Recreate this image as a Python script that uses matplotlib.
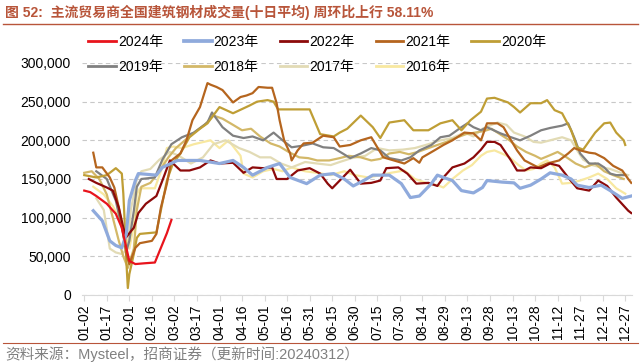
import numpy as np
import matplotlib
matplotlib.use("Agg")
import matplotlib.pyplot as plt
from matplotlib.lines import Line2D
from matplotlib.ticker import StrMethodFormatter

plt.rcParams['font.family'] = ['Liberation Sans', 'Noto Sans CJK SC']

# x 轴标签（每 15 天一个）
tick_labels = ["01-02", "01-17", "02-01", "02-16", "03-02", "03-17", "04-01", "04-16",
               "05-01", "05-16", "05-31", "06-15", "06-30", "07-15", "07-30", "08-14",
               "08-29", "09-13", "09-28", "10-13", "10-28", "11-12", "11-27", "12-12", "12-27"]

# 各年数据（横轴为自 01-02 起的天数，纵轴单位：千吨）
x24 = [0, 4, 8, 15, 21, 25, 28, 30, 34, 40, 47, 51, 55, 58]
y24 = [135, 133, 128, 118, 105, 87, 61, 44, 40, 41, 42, 61, 80, 97]

x23 = [6, 12, 17, 21, 25, 28, 30, 34, 36, 48, 52, 62, 77, 90, 99, 106, 112, 122, 130, 137,
       148, 157, 166, 173, 179, 186, 192, 203, 211, 217, 223, 231, 235, 239, 245, 251, 259,
       265, 268, 278, 286, 290, 297, 304, 310, 318, 324, 328, 336, 344, 350, 358, 364]
y23 = [109, 96, 70, 64, 61, 79, 122, 148, 157, 155, 165, 174, 174, 170, 174, 165, 155, 165, 170, 152,
       144, 155, 157, 150, 141, 148, 155, 155, 144, 126, 128, 144, 155, 152, 148, 135, 132,
       139, 148, 146, 145, 138, 142, 150, 158, 155, 150, 142, 139, 142, 135, 125, 128]

x22 = [3, 8, 15, 19, 23, 26, 28, 33, 36, 41, 48, 52, 57, 64, 70, 77, 84, 90, 99, 106,
       112, 119, 125, 128, 135, 142, 150, 157, 162, 165, 170, 177, 184, 191, 197, 201, 209, 215, 221, 229,
       235, 239, 245, 253, 259, 264, 268, 273, 277, 284, 288, 293, 297, 304, 310, 316, 322, 328, 336, 342,
       348, 354, 362, 364]
y22 = [150, 145, 139, 135, 113, 87, 75, 87, 106, 118, 128, 148, 174, 161, 161, 165, 174, 170, 171, 158,
       165, 164, 165, 150, 150, 161, 164, 157, 144, 138, 148, 162, 144, 145, 148, 164, 165, 157, 144, 145,
       141, 152, 165, 170, 178, 188, 198, 198, 194, 174, 161, 161, 165, 164, 170, 167, 152, 138, 135, 148,
       141, 126, 109, 106]

x21 = [6, 8, 12, 17, 20, 23, 26, 28, 30, 34, 37, 45, 48, 51, 55, 58, 64, 68, 72, 77,
       82, 84, 88, 92, 99, 104, 108, 112, 116, 122, 125, 128, 130, 133, 137, 138, 142, 146, 152, 159,
       166, 170, 177, 184, 191, 195, 199, 206, 213, 219, 223, 225, 233, 239, 245, 253, 259, 264, 268, 275,
       279, 284, 288, 293, 297, 302, 308, 316, 322, 326, 330, 336, 340, 346, 352, 358, 362, 364]
y21 = [184, 165, 165, 152, 139, 113, 79, 53, 40, 61, 67, 70, 79, 113, 144, 174, 183, 200, 226, 243,
       274, 272, 269, 265, 249, 256, 258, 261, 269, 268, 268, 248, 226, 200, 183, 174, 187, 196, 197, 206,
       204, 192, 194, 200, 204, 191, 178, 174, 170, 177, 171, 178, 187, 194, 200, 210, 209, 200, 222, 222,
       217, 200, 187, 174, 170, 165, 170, 174, 183, 190, 187, 184, 183, 177, 167, 161, 150, 145]

x20 = [0, 8, 15, 21, 25, 26, 27, 28, 29, 30, 33, 35, 37, 48, 50, 55, 59, 64, 70, 77,
       82, 90, 99, 110, 115, 122, 126, 129, 137, 150, 157, 166, 170, 175, 184, 192, 197, 203, 213, 219,
       229, 237, 245, 251, 257, 264, 268, 273, 282, 286, 290, 297, 304, 308, 313, 318, 324, 328, 332, 340,
       346, 350, 354, 359, 360]
y20 = [155, 152, 155, 164, 157, 131, 90, 44, 9, 27, 53, 74, 79, 81, 100, 148, 170, 183, 204, 215,
       222, 243, 235, 245, 250, 252, 250, 240, 240, 240, 208, 205, 210, 215, 232, 217, 203, 223, 226, 213,
       213, 222, 226, 213, 226, 237, 254, 255, 249, 243, 236, 248, 248, 252, 239, 235, 213, 191, 188, 210,
       222, 223, 210, 200, 194]

x19 = [8, 15, 21, 25, 28, 30, 33, 35, 38, 47, 52, 58, 65, 73, 82, 85, 92, 99, 106, 112,
       119, 126, 132, 138, 145, 152, 159, 166, 172, 177, 184, 191, 197, 203, 211, 217, 223, 231, 237, 243,
       251, 255, 259, 264, 268, 277, 284, 290, 297, 304, 310, 318, 322, 326, 330, 336, 342, 346, 350, 354,
       360]
y19 = [160, 150, 122, 87, 57, 70, 109, 140, 150, 152, 175, 195, 204, 210, 223, 236, 217, 206, 203, 205,
       200, 210, 200, 191, 193, 196, 191, 190, 183, 177, 183, 190, 187, 177, 174, 178, 187, 194, 204, 206,
       217, 222, 217, 213, 217, 209, 204, 200, 206, 213, 216, 219, 222, 204, 183, 170, 170, 165, 157, 155,
       155]

x18 = [0, 5, 10, 15, 19, 23, 26, 29, 33, 35, 38, 44, 50, 56, 61, 67, 73, 80, 86, 92,
       99, 105, 111, 117, 124, 130, 136, 143, 149, 155, 163, 170, 176, 184, 191, 197, 203, 210, 216, 222,
       229, 235, 241, 247, 254, 260, 266, 271, 275, 279, 283, 288, 294, 300, 304, 309, 315, 321, 327, 333,
       340, 346, 352, 359]
y18 = [158, 160, 150, 130, 100, 70, 50, 35, 60, 110, 140, 145, 160, 178, 190, 200, 210, 220, 232, 228,
       220, 213, 215, 205, 196, 192, 185, 178, 177, 174, 174, 177, 180, 178, 174, 176, 183, 185, 182, 185,
       190, 194, 198, 203, 208, 210, 212, 215, 210, 205, 200, 192, 185, 180, 176, 180, 185, 178, 170, 165,
       170, 160, 155, 150]

x17 = [8, 13, 17, 21, 25, 29, 31, 35, 38, 44, 50, 57, 63, 71, 79, 86, 94, 103, 110, 117,
       124, 131, 138, 147, 155, 164, 170, 178, 187, 195, 203, 212, 220, 229, 237, 245, 253, 259, 265, 271,
       275, 281, 286, 293, 299, 304, 310, 318, 324, 328, 332, 338, 344, 350, 357, 362]
y17 = [125, 110, 60, 55, 53, 60, 110, 150, 160, 163, 175, 185, 180, 170, 178, 195, 200, 190, 185, 178,
       178, 170, 165, 172, 170, 168, 172, 177, 180, 190, 187, 188, 190, 195, 200, 203, 210, 205, 215, 220,
       223, 220, 210, 205, 198, 197, 200, 204, 200, 187, 175, 168, 165, 163, 158, 155]

x16 = [6, 13, 19, 23, 27, 30, 33, 35, 37, 47, 51, 55, 59, 65, 73, 84, 90, 96, 104, 106,
       112, 119, 126, 132, 138, 147, 155, 164, 173, 180, 189, 197, 204, 213, 220, 229, 235, 239, 245, 252,
       258, 264, 268, 273, 279, 283, 289, 294, 299, 304, 308, 313, 318, 324, 330, 336, 342, 348, 354, 360]
y16 = [140, 130, 115, 100, 80, 60, 90, 130, 138, 138, 160, 190, 192, 190, 195, 200, 190, 200, 180, 157,
       152, 160, 163, 160, 165, 160, 158, 155, 160, 155, 152, 155, 158, 161, 150, 144, 142, 139, 150, 161,
       168, 180, 185, 187, 182, 178, 168, 161, 163, 170, 174, 165, 144, 145, 148, 152, 157, 150, 138, 131]

series = [
    ("2024年", x24, y24, "#E8141C", 1.6),
    ("2023年", x23, y23, "#8FAADC", 2.3),
    ("2022年", x22, y22, "#8C0A0A", 1.6),
    ("2021年", x21, y21, "#B5651E", 1.6),
    ("2020年", x20, y20, "#BF9E35", 1.6),
    ("2019年", x19, y19, "#808080", 1.6),
    ("2018年", x18, y18, "#D3B868", 1.6),
    ("2017年", x17, y17, "#E2DBB5", 1.6),
    ("2016年", x16, y16, "#F8E8A0", 1.6),
]

fig = plt.figure(figsize=(6.41, 3.64), dpi=100)
ax = fig.add_axes([82 / 641, (364 - 295) / 364, (632 - 82) / 641, (295 - 63) / 364])

handles = {}
for k, (name, xs, ys, col, lw) in enumerate(series):
    ax.plot(xs, np.array(ys) * 1000, color=col, lw=lw, zorder=20 - k, solid_joinstyle='round')
    handles[name] = Line2D([0], [0], color=col, lw=lw + 0.4)

ax.set_ylim(0, 300000)
ax.set_yticks(np.arange(0, 300001, 50000))
ax.yaxis.set_major_formatter(StrMethodFormatter("{x:,.0f}"))
ax.set_xlim(-1.5, 364.5)
ax.set_xticks(np.arange(0, 361, 15))
ax.set_xticklabels(tick_labels, rotation=90)
ax.tick_params(axis='x', length=4, color='#D9D9D9', labelsize=10, pad=3)
ax.tick_params(axis='y', length=0, labelsize=10, pad=8)
ax.grid(axis='y', linestyle=(0, (4, 3)), color='#C8C8C8', lw=0.8)
for s in ['top', 'right', 'left']:
    ax.spines[s].set_visible(False)
ax.spines['bottom'].set_color('#D9D9D9')

# 图例按行排列：matplotlib 按列填充，所以先调整顺序
order = ["2024年", "2019年", "2023年", "2018年", "2022年", "2017年", "2021年", "2016年", "2020年"]
fig.legend([handles[n] for n in order], order, ncol=5, loc='upper left',
           bbox_to_anchor=(88 / 641, 1 - 35 / 364), frameon=False, fontsize=10,
           handlelength=2.0, handletextpad=0.15, columnspacing=1.5, labelspacing=0.8,
           borderaxespad=0, borderpad=0)

tc = '#B8553A'
fig.text(5 / 641, 1 - 12 / 364, "图 52:  主流贸易商全国建筑钢材成交量(十日平均) 周环比上行 58.11%",
         fontsize=10, fontweight='bold', color=tc, va='center', ha='left')
fig.add_artist(Line2D([3 / 641, 638 / 641], [1 - 24 / 364, 1 - 24 / 364], color=tc, lw=1.0))
fig.add_artist(Line2D([3 / 641, 638 / 641], [1 - 343 / 364, 1 - 343 / 364], color=tc, lw=0.8))
fig.text(5 / 641, 1 - 354 / 364, "资料来源：Mysteel，招商证券（更新时间:20240312）",
         fontsize=10.5, color='#808080', va='center', ha='left')

fig.savefig("out.png", dpi=100)
